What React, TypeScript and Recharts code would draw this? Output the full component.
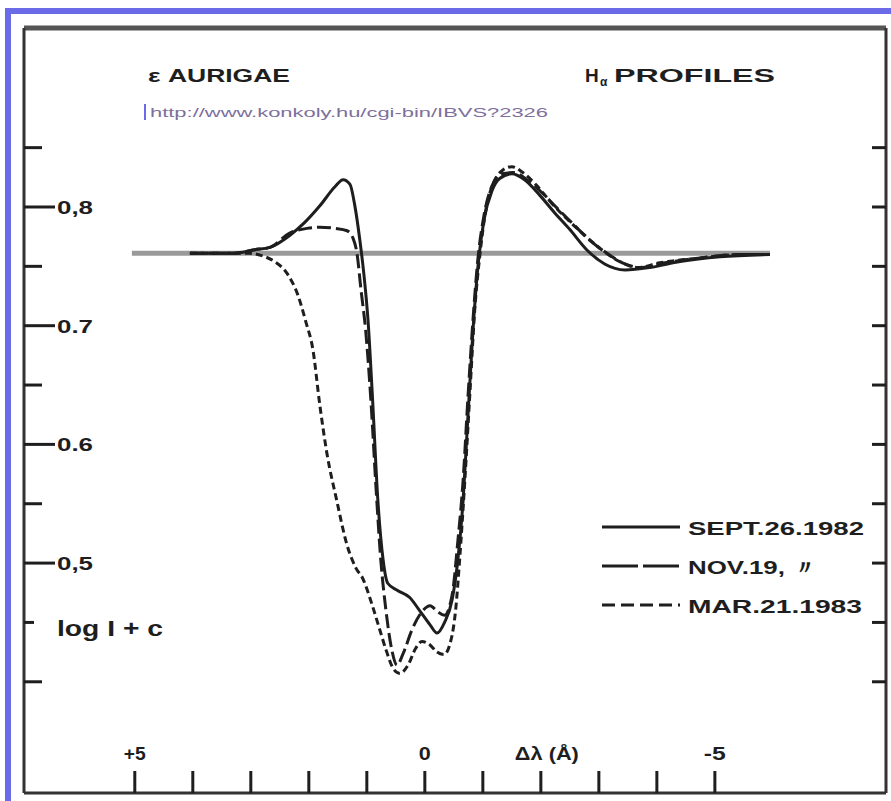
import React from 'react';
import { LineChart, Line, XAxis, YAxis } from 'recharts';

type P = [number, number];

// [Δλ (Å), log I + c]
const sept26: P[] = [
  [4.05, 0.761], [3.31, 0.761], [2.93, 0.764], [2.67, 0.766], [2.33, 0.776],
  [2.07, 0.787], [1.81, 0.801], [1.55, 0.817], [1.41, 0.823], [1.29, 0.819],
  [1.21, 0.802], [1.12, 0.772], [1.05, 0.743], [0.98, 0.705], [0.9, 0.637],
  [0.81, 0.553], [0.72, 0.503], [0.64, 0.483], [0.47, 0.477], [0.26, 0.471],
  [0.09, 0.46], [-0.09, 0.448], [-0.21, 0.441], [-0.34, 0.45], [-0.47, 0.469],
  [-0.57, 0.503], [-0.66, 0.553], [-0.74, 0.621], [-0.83, 0.696], [-0.91, 0.747],
  [-1.02, 0.789], [-1.16, 0.814], [-1.29, 0.824], [-1.5, 0.828], [-1.72, 0.823],
  [-1.98, 0.81], [-2.24, 0.795], [-2.5, 0.781], [-2.79, 0.764], [-3.1, 0.752],
  [-3.45, 0.747], [-3.88, 0.749], [-4.4, 0.754], [-5.09, 0.758], [-5.95, 0.76],
];

const nov19: P[] = [
  [4.05, 0.761], [3.31, 0.761], [2.93, 0.764], [2.67, 0.766], [2.33, 0.778],
  [2.03, 0.782], [1.81, 0.783], [1.55, 0.782], [1.34, 0.78], [1.24, 0.774],
  [1.17, 0.761], [1.1, 0.73], [1.02, 0.696], [0.93, 0.637], [0.84, 0.562],
  [0.76, 0.503], [0.67, 0.46], [0.57, 0.427], [0.48, 0.414], [0.38, 0.423],
  [0.22, 0.444], [0.05, 0.459], [-0.09, 0.464], [-0.22, 0.459], [-0.34, 0.456],
  [-0.47, 0.473], [-0.57, 0.519], [-0.66, 0.57], [-0.74, 0.637], [-0.83, 0.705],
  [-0.91, 0.754], [-1.02, 0.793], [-1.16, 0.818], [-1.33, 0.828], [-1.52, 0.829],
  [-1.76, 0.823], [-2.02, 0.812], [-2.28, 0.799], [-2.55, 0.786], [-2.84, 0.772],
  [-3.14, 0.761], [-3.45, 0.752], [-3.71, 0.749], [-4.14, 0.753], [-4.74, 0.757],
  [-5.43, 0.76], [-5.95, 0.76],
];

const mar21: P[] = [
  [4.05, 0.761], [3.02, 0.761], [2.81, 0.759], [2.59, 0.754], [2.36, 0.743],
  [2.19, 0.726], [2.05, 0.703], [1.93, 0.68], [1.81, 0.633], [1.69, 0.593],
  [1.52, 0.553], [1.34, 0.515], [1.19, 0.496], [1.07, 0.487], [0.91, 0.465],
  [0.79, 0.446], [0.67, 0.427], [0.53, 0.41], [0.43, 0.407], [0.29, 0.414],
  [0.16, 0.428], [0.05, 0.434], [-0.09, 0.431], [-0.21, 0.425], [-0.33, 0.423],
  [-0.45, 0.435], [-0.53, 0.46], [-0.6, 0.503], [-0.69, 0.57], [-0.78, 0.646],
  [-0.86, 0.713], [-0.95, 0.76], [-1.05, 0.797], [-1.19, 0.821], [-1.34, 0.831],
  [-1.5, 0.834], [-1.69, 0.829], [-1.93, 0.818], [-2.19, 0.803], [-2.47, 0.789],
  [-2.76, 0.776], [-3.05, 0.764], [-3.36, 0.754], [-3.67, 0.749], [-4.05, 0.753],
  [-4.74, 0.757], [-5.43, 0.76], [-5.95, 0.76],
];

const continuum: P[] = [[5.05, 0.761], [-5.95, 0.761]];

const xTicks = [5, 4, 3, 2, 1, 0, -1, -2, -3, -4, -5];
const xLabels: Record<string, string> = { '5': '+5', '0': '0', '-2': 'Δλ (Å)', '-5': '-5' };
const yTicks = [0.4, 0.45, 0.5, 0.55, 0.6, 0.65, 0.7, 0.75, 0.8, 0.85];
const yLabels: Record<string, string> = {
  '0.8': '0,8', '0.7': '0.7', '0.6': '0.6', '0.5': '0,5', '0.45': 'log I + c',
};
const majorY = [0.5, 0.6, 0.7, 0.8];

const xDomain = [-7.95, 6.91];
const yDomain = [0.3063, 0.9508];

const names = ['SEPT.26.1982', 'NOV.19,  〃', 'MAR.21.1983'];
const dashes = [undefined, '14 5', '7 4'];
const legendDashes = [undefined, '36 5', '13 6'];
const legendWidths = [176, 130, 174];

const rows = (pts: P[]) => pts.map(([d, v]) => ({ d, v }));

const ink = '#1e1e1e';
const font = '"Liberation Sans", Arial, sans-serif';

const LeftTick = (props: any) => {
  const { x, y, payload } = props;
  const v = payload.value;
  const label = yLabels[String(v)];
  const major = majorY.includes(v);
  const isLog = v === 0.45;
  const len = isLog ? 10 : major ? 31 : 18;
  return (
    <g>
      <line x1={x} x2={x + len} y1={y} y2={y} stroke={ink} strokeWidth={3} />
      {label && (
        <text
          x={x + 33}
          y={y + (isLog ? 14 : 7)}
          fill={ink}
          fontFamily={font}
          fontWeight="bold"
          fontSize={isLog ? 22 : 19}
          textLength={isLog ? 106 : 36}
          lengthAdjust="spacingAndGlyphs"
        >
          {label}
        </text>
      )}
    </g>
  );
};

const RightTick = (props: any) => {
  const { x, y } = props;
  return <line x1={x} x2={x - 14} y1={y} y2={y} stroke={ink} strokeWidth={3} />;
};

const BottomTick = (props: any) => {
  const { x, y, payload } = props;
  const label = xLabels[String(payload.value)];
  const isUnit = payload.value === -2;
  return (
    <g>
      <line x1={x} x2={x} y1={y} y2={y - 22} stroke={ink} strokeWidth={3} />
      {label && (
        <text
          x={x + (isUnit ? 6 : 0)}
          y={y - 33}
          textAnchor="middle"
          fill={ink}
          fontFamily={font}
          fontWeight="bold"
          fontSize={18}
          textLength={isUnit ? 64 : label.length === 1 ? 12 : 22}
          lengthAdjust="spacingAndGlyphs"
        >
          {label}
        </text>
      )}
    </g>
  );
};

export default function App() {
  const series: P[][] = [sept26, nov19, mar21];
  return (
    <div style={{ position: 'absolute', left: 0, top: 0, width: 891, height: 801, overflow: 'hidden', background: '#fff' }}>
      <div
        style={{
          position: 'absolute', left: 5, top: 8, width: 900, height: 800,
          border: '6px solid #6b6bea', boxSizing: 'border-box',
        }}
      />
      <LineChart
        width={891}
        height={801}
        margin={{ top: 27, left: 23, right: 4, bottom: 7 }}
        style={{ position: 'absolute', left: 0, top: 0 }}
      >
        <XAxis
          xAxisId="b"
          dataKey="d"
          type="number"
          domain={xDomain}
          reversed
          allowDataOverflow
          ticks={xTicks}
          interval={0}
          height={1}
          tickSize={0}
          tickMargin={0}
          tickLine={false}
          axisLine={{ stroke: '#333', strokeWidth: 3 }}
          tick={<BottomTick />}
        />
        <XAxis
          xAxisId="t"
          orientation="top"
          type="number"
          domain={xDomain}
          reversed
          allowDataOverflow
          height={1}
          tick={false}
          tickLine={false}
          axisLine={{ stroke: '#555', strokeWidth: 5 }}
        />
        <YAxis
          yAxisId="l"
          type="number"
          domain={yDomain}
          allowDataOverflow
          ticks={yTicks}
          interval={0}
          width={1}
          tickSize={0}
          tickMargin={0}
          tickLine={false}
          axisLine={{ stroke: '#333', strokeWidth: 3 }}
          tick={<LeftTick />}
        />
        <YAxis
          yAxisId="r"
          orientation="right"
          type="number"
          domain={yDomain}
          allowDataOverflow
          ticks={yTicks}
          interval={0}
          width={1}
          tickSize={0}
          tickMargin={0}
          tickLine={false}
          axisLine={{ stroke: '#333', strokeWidth: 3 }}
          tick={<RightTick />}
        />
        <Line
          xAxisId="b"
          yAxisId="l"
          data={rows(continuum)}
          dataKey="v"
          stroke="#9a9a9a"
          strokeWidth={5}
          dot={false}
          legendType="none"
          isAnimationActive={false}
        />
        {series.map((pts, i) => (
          <Line
            key={names[i]}
            xAxisId="b"
            yAxisId="l"
            data={rows(pts)}
            dataKey="v"
            name={names[i]}
            type="monotone"
            stroke={ink}
            strokeWidth={3}
            strokeDasharray={dashes[i]}
            dot={false}
            isAnimationActive={false}
          />
        ))}
      </LineChart>
      <svg width={891} height={801} style={{ position: 'absolute', left: 0, top: 0, pointerEvents: 'none' }}>
        <text x={148} y={82} fill={ink} fontFamily={font} fontWeight="bold" fontSize={19} textLength={142} lengthAdjust="spacingAndGlyphs">
          ε AURIGAE
        </text>
        <text x={585} y={82} fill={ink} fontFamily={font} fontWeight="bold" fontSize={19}>
          H
        </text>
        <text x={600} y={86} fill={ink} fontFamily={font} fontWeight="bold" fontSize={12}>
          α
        </text>
        <text x={614} y={82} fill={ink} fontFamily={font} fontWeight="bold" fontSize={19} textLength={161} lengthAdjust="spacingAndGlyphs">
          PROFILES
        </text>
        <rect x={144} y={104} width={2} height={16} fill="#6b6bea" />
        <text x={150} y={117} fill="#7d6f9c" fontFamily={font} fontSize={12} textLength={398} lengthAdjust="spacingAndGlyphs">
          http://www.konkoly.hu/cgi-bin/IBVS?2326
        </text>
        {names.map((n, i) => (
          <g key={n}>
            <line x1={602} x2={680} y1={527 + i * 39} y2={527 + i * 39} stroke={ink} strokeWidth={3} strokeDasharray={legendDashes[i]} />
            <text
              x={688}
              y={535 + i * 39}
              fill={ink}
              fontFamily={font}
              fontWeight="bold"
              fontSize={19}
              textLength={legendWidths[i]}
              lengthAdjust="spacingAndGlyphs"
            >
              {n}
            </text>
          </g>
        ))}
      </svg>
    </div>
  );
}
